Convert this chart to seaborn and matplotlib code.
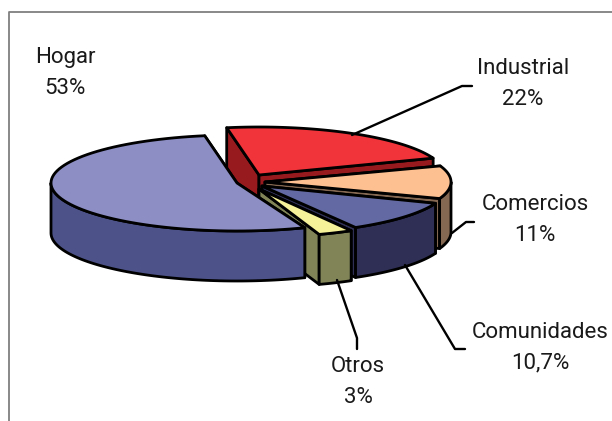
import matplotlib
matplotlib.use("Agg")
import matplotlib.pyplot as plt
import numpy as np
import pandas as pd
import seaborn as sns
from matplotlib.patches import Polygon

categories = ["Hogar", "Otros", "Comunidades", "Comercios", "Industrial"]
shares = [53, 3, 10.7, 11, 22]
share_labels = ["53%", "3%", "10,7%", "11%", "22%"]
top_colors = ["#8C8EC4", "#F5F29A", "#6369A3", "#FDC091", "#F1333A"]
side_colors = ["#4D5389", "#808457", "#2F2F55", "#846851", "#971A1E"]

# layout of the fake 3d pie, in pixels of the 612x421 picture
CENTER = (258, 184)
RX, RY, DEPTH = 186, 48, 50
START_ANGLE = 100
# how far each slice was pulled out of the pie, and a small rotation per slice
slice_offsets = [(-21, -1), (1, 5), (4, 2), (7, -2), (1, -9)]
slice_turns = [0, -2.5, -2, -1, 0]
draw_order = [4, 3, 2, 1, 0]

label_positions = {
    "Hogar": (65, 73),
    "Otros": (358, 382),
    "Comunidades": (540, 348),
    "Comercios": (535, 220),
    "Industrial": (523, 84),
}
leaders = {
    "Industrial": ([352, 462, 472], [135, 86, 86]),
    "Comercios": ([452, 466, 474], [233, 222, 222]),
    "Comunidades": ([405, 455, 465], [265, 349, 349]),
    "Otros": ([337, 357, 357], [280, 338, 349]),
}


def arc(center, start, end, n=80):
    t = np.radians(np.linspace(start, end, n))
    return np.column_stack([center[0] + RX * np.cos(t), center[1] - RY * np.sin(t)])


def add_poly(ax, points, color):
    ax.add_patch(Polygon(points, closed=True, facecolor=color, edgecolor="black",
                         linewidth=2.0, joinstyle="round"))


def draw_slice(ax, start, end, offset, top, side):
    center = np.array([CENTER[0] + offset[0], CENTER[1] + offset[1]], dtype=float)
    down = np.array([0, DEPTH])
    rim = arc(center, start, end)
    # cut faces first, the rim and the top paint over whatever is hidden
    for edge in (rim[-1], rim[0]):
        add_poly(ax, [center, edge, edge + down, center + down], side)
    # only the front half of the rim can be seen
    front_start, front_end = max(start, 180), min(end, 360)
    if front_end > front_start:
        front = arc(center, front_start, front_end)
        add_poly(ax, np.vstack([front, (front + down)[::-1]]), side)
    add_poly(ax, np.vstack([[center], rim]), top)


sns.set_theme(style="white")
plt.rcParams["font.family"] = ["Roboto", "DejaVu Sans"]

fig = plt.figure(figsize=(6.12, 4.21), dpi=100, facecolor="white")
ax = fig.add_axes([0, 0, 1, 1])
ax.set_xlim(0, 612)
ax.set_ylim(421, 0)
ax.axis("off")

ax.plot([9, 9, 612], [421, 12, 12], color="#7F7F7F", linewidth=1.3)

sweeps = np.array(shares) / sum(shares) * 360
starts = START_ANGLE + np.concatenate([[0], np.cumsum(sweeps)[:-1]]) + np.array(slice_turns)
for i in draw_order:
    draw_slice(ax, starts[i], starts[i] + sweeps[i], slice_offsets[i], top_colors[i], side_colors[i])

for name, (xs, ys) in leaders.items():
    frame = pd.DataFrame({"x": xs, "y": ys})
    sns.lineplot(data=frame, x="x", y="y", sort=False, estimator=None, color="black",
                 linewidth=1.7, ax=ax)
ax.set_xlim(0, 612)
ax.set_ylim(421, 0)
ax.axis("off")

for name, pct in zip(categories, share_labels):
    x, y = label_positions[name]
    ax.text(x, y, f"{name}\n{pct}", ha="center", va="center", fontsize=16,
            linespacing=1.58, color="#1A1A1A")

fig.savefig("out.png", dpi=100)
